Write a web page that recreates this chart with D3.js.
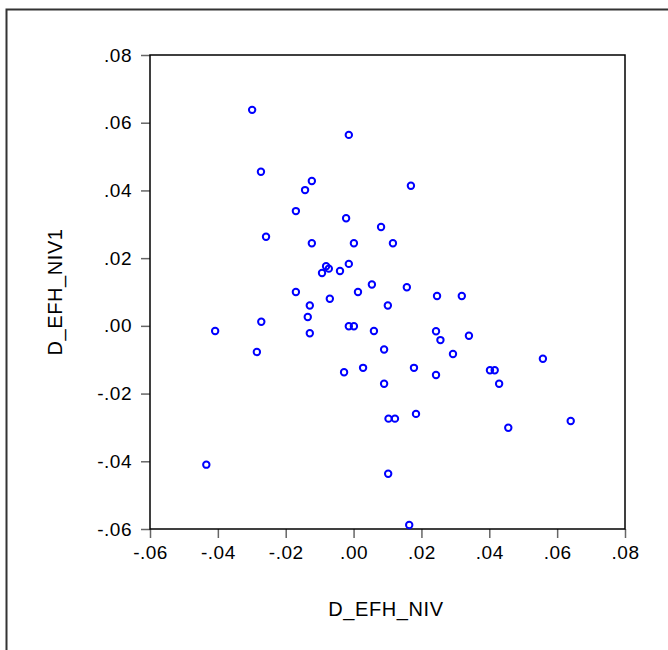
<!DOCTYPE html>
<html>
<head>
<meta charset="utf-8">
<script src="https://cdn.jsdelivr.net/npm/d3@7"></script>
<style>
  body { margin: 0; background: #fff; }
  text { font-family: "Liberation Sans", Arial, sans-serif; fill: #000; }
</style>
</head>
<body>
<div id="chart"></div>
<script>
// data
var xLabel = 'D_EFH_NIV',
  yLabel = 'D_EFH_NIV1';

var xTicks = [-0.06, -0.04, -0.02, 0, 0.02, 0.04, 0.06, 0.08];
var yTicks = [-0.06, -0.04, -0.02, 0, 0.02, 0.04, 0.06, 0.08];

var xValues = [
  -0.0299, -0.0014, -0.0273, 0.0169, -0.0123, -0.0143, -0.0170, -0.0022, 0.0081, -0.0258,
  -0.0123, 0.0001, 0.0116, -0.0014, -0.0081, -0.0073, -0.0093, -0.0040, 0.0054, 0.0157,
  0.0013, -0.0170, -0.0070, 0.0246, 0.0319, -0.0129, 0.0101, -0.0135, -0.0272, -0.0014,
  0.0001, -0.0408, -0.0129, 0.0060, 0.0243, 0.0256, 0.0340, 0.0090, -0.0285, 0.0293,
  0.0558, 0.0028, 0.0178, -0.0028, 0.0243, 0.0402, 0.0416, 0.0429, 0.0090, 0.0184,
  0.0103, 0.0122, 0.0640, 0.0456, -0.0434, 0.0102, 0.0164
];
var yValues = [
  0.0638, 0.0564, 0.0455, 0.0414, 0.0428, 0.0401, 0.0339, 0.0318, 0.0292, 0.0263,
  0.0244, 0.0244, 0.0244, 0.0183, 0.0176, 0.0169, 0.0156, 0.0162, 0.0122, 0.0114,
  0.0100, 0.0100, 0.0080, 0.0088, 0.0088, 0.0060, 0.0060, 0.0026, 0.0012, -0.0001,
  -0.0001, -0.0015, -0.0022, -0.0015, -0.0016, -0.0042, -0.0029, -0.0070, -0.0077, -0.0083,
  -0.0097, -0.0124, -0.0124, -0.0137, -0.0145, -0.0131, -0.0131, -0.0171, -0.0171, -0.0260,
  -0.0274, -0.0274, -0.0281, -0.0301, -0.0410, -0.0437, -0.0588
];

(function () {
  var width = 668,
    height = 650,
    plotLeft = 150,
    plotRight = 625,
    plotTop = 55,
    plotBottom = 529;

  // ".02", "-.04" style labels with a plain hyphen
  var fmt = function (d) {
    return (d < 0 ? '-' : '') + Math.abs(d).toFixed(2).replace(/^0/, '');
  };

  var svg = d3.select('#chart').append('svg')
    .attr('width', width)
    .attr('height', height);

  // outer frame (runs off the page on the right and bottom)
  svg.append('rect')
    .attr('x', 6.5)
    .attr('y', 9.5)
    .attr('width', 720)
    .attr('height', 720)
    .attr('fill', 'none')
    .attr('stroke', '#333')
    .attr('stroke-width', 2);

  var x = d3.scaleLinear().domain([-0.06, 0.08]).range([plotLeft, plotRight]);
  var y = d3.scaleLinear().domain([-0.06, 0.08]).range([plotBottom, plotTop]);

  var gx = svg.append('g')
    .attr('transform', 'translate(0,' + plotBottom + ')')
    .call(d3.axisBottom(x).tickValues(xTicks).tickFormat(fmt).tickSize(9).tickPadding(6));

  var gy = svg.append('g')
    .attr('transform', 'translate(' + plotLeft + ',0)')
    .call(d3.axisLeft(y).tickValues(yTicks).tickFormat(fmt).tickSize(9).tickPadding(9));

  [gx, gy].forEach(function (g) {
    g.select('.domain').remove();
    g.selectAll('.tick line').attr('stroke', '#666').attr('stroke-width', 1.5);
    g.selectAll('.tick text')
      .attr('fill', '#000')
      .style('font-size', '19px')
      .style('letter-spacing', '0.5px');
  });
  gx.selectAll('.tick text').attr('dy', '0.8em');

  // plot box
  svg.append('rect')
    .attr('x', plotLeft)
    .attr('y', plotTop)
    .attr('width', plotRight - plotLeft)
    .attr('height', plotBottom - plotTop)
    .attr('fill', 'none')
    .attr('stroke', '#000')
    .attr('stroke-width', 1.5);

  // points
  svg.append('g').selectAll('circle')
      .data(xValues)
    .enter().append('circle')
      .attr('cx', function (d) { return x(d); })
      .attr('cy', function (d, i) { return y(yValues[i]); })
      .attr('r', 3.2)
      .attr('fill', 'none')
      .attr('stroke', '#0000ff')
      .attr('stroke-width', 2);

  // axis titles
  svg.append('text')
    .attr('x', 386)
    .attr('y', 616)
    .attr('text-anchor', 'middle')
    .style('font-size', '20px')
    .style('letter-spacing', '0.6px')
    .text(xLabel);

  svg.append('text')
    .attr('transform', 'translate(62,292) rotate(-90)')
    .attr('text-anchor', 'middle')
    .style('font-size', '20px')
    .style('letter-spacing', '0.6px')
    .text(yLabel);
})();
</script>
</body>
</html>
